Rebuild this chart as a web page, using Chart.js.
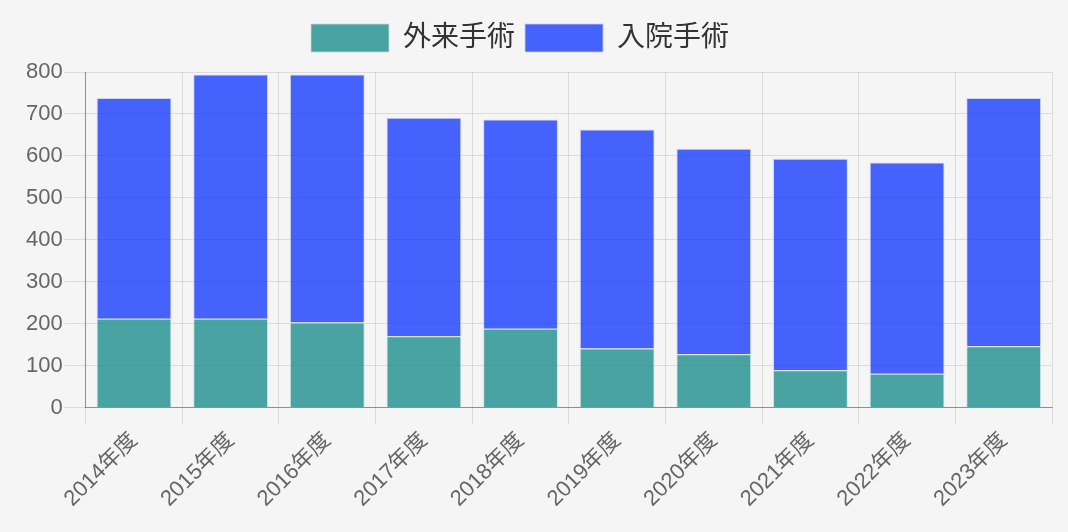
<!DOCTYPE html>
<html><head><meta charset="utf-8">
<script src="https://cdn.jsdelivr.net/npm/chart.js"></script>
<style>html,body{margin:0;padding:0;background:#f5f5f5;}#wrap{width:1068px;height:532px;}</style>
</head><body><div id="wrap"><canvas id="c"></canvas></div>
<script>
const categories = ['2014年度','2015年度','2016年度','2017年度','2018年度','2019年度','2020年度','2021年度','2022年度','2023年度'];
const outpatient = [212, 212, 203, 170, 188, 141, 127, 89, 81, 146];
const inpatient = [526, 582, 591, 521, 499, 522, 490, 504, 503, 592];
const yTicks = [0,100,200,300,400,500,600,700,800];
const FONT = "'Liberation Sans','Noto Sans CJK JP',sans-serif";
const legendTweak = {
  id:'legendTweak',
  beforeUpdate(chart){
    const l = chart.legend;
    if(l && !l._patched){
      const fit = l.fit;
      l.fit = function(){ fit.call(this); this.height += 10; };
      l._patched = true;
    }
  },
  afterLayout(chart){ const l = chart.legend; if(l){ l.left -= 18; l.right -= 18; } }
};
new Chart(document.getElementById('c'), {
  type: 'bar',
  data: {
    labels: categories,
    datasets: [
      {label:'外来手術', data: outpatient, backgroundColor:'rgba(0,128,128,0.7)', borderColor:'rgba(200,220,220,0.8)', borderWidth:1},
      {label:'入院手術', data: inpatient, backgroundColor:'rgba(10,48,255,0.75)', borderColor:'rgba(200,205,240,0.8)', borderWidth:1}
    ]
  },
  plugins:[legendTweak],
  options: {
    responsive:true, maintainAspectRatio:false, animation:false,
    layout:{padding:{left:24,right:16,top:14,bottom:17}},
    datasets:{bar:{barPercentage:0.9, categoryPercentage:0.86}},
    plugins:{
      legend:{labels:{font:{size:28,family:FONT}, color:'#333', boxWidth:78, boxHeight:28, padding:10}},
      tooltip:{enabled:false}
    },
    scales:{
      x:{stacked:true, ticks:{font:{size:22,family:FONT}, color:'#666', maxRotation:45, minRotation:45},
         grid:{color:'rgba(0,0,0,0.1)', tickLength:17}, border:{color:'rgba(0,0,0,0.35)'}},
      y:{stacked:true, min:0, max:800,
         afterBuildTicks:(ax)=>{ax.ticks = yTicks.map(v=>({value:v}));},
         ticks:{font:{size:22,family:FONT}, color:'#666', padding:2},
         grid:{color:'rgba(0,0,0,0.1)', tickLength:21}, border:{color:'rgba(0,0,0,0.35)'}}
    }
  }
});
</script></body></html>
